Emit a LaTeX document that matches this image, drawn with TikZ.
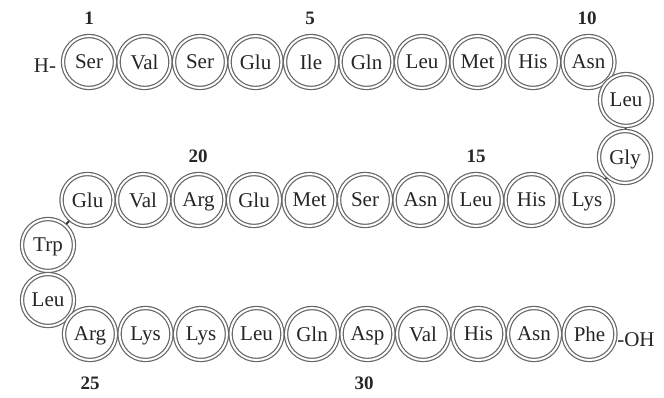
\documentclass[tikz,border=0pt]{standalone}
\usepackage{fontspec}
\setmainfont{Liberation Serif}
\usetikzlibrary{backgrounds}
\begin{document}
\begin{tikzpicture}[x=1pt,y=-1pt,
  res/.style={circle, draw=black!60, fill=white, double=white, double distance=2pt,
    line width=1.2pt, minimum size=52pt, inner sep=0pt,
    font=\fontsize{21}{21}\selectfont, text=black!85, text depth=0pt},
  num/.style={font=\bfseries\fontsize{19}{19}\selectfont, text=black!85},
  term/.style={font=\fontsize{21}{21}\selectfont, text=black!85, inner sep=0pt},
  bond/.style={line width=2pt, black!80}]
\useasboundingbox (0,0) rectangle (664,397);
% row 1
\foreach \n/\t [count=\i from 1] in {1/Ser,2/Val,3/Ser,4/Glu,5/Ile,6/Gln,7/Leu,8/Met,9/His,10/Asn}
  \node[res] (r\n) at ({89+55.5*(\i-1)},62) {\t};
\node[res] (r11) at (626,100) {Leu};
\node[res] (r12) at (625,157) {Gly};
% row 2 (right to left)
\foreach \n/\t [count=\i from 0] in {13/Lys,14/His,15/Leu,16/Asn,17/Ser,18/Met,19/Glu,20/Arg,21/Val,22/Glu}
  \node[res] (r\n) at ({587-55.5*\i},200) {\t};
\node[res] (r23) at (48,245) {Trp};
\node[res] (r24) at (48,300) {Leu};
% row 3
\foreach \n/\t [count=\i from 0] in {25/Arg,26/Lys,27/Lys,28/Leu,29/Gln,30/Asp,31/Val,32/His,33/Asn,34/Phe}
  \node[res] (r\n) at ({90+55.5*\i},334) {\t};
% termini
\node[term] (H) at (45,66) {H-};
\node[term] (OH) at (636,340) {-OH};
% numbers
\node[num] (n1) at (89,18) {1};
\node[num] (n5) at (310,18) {5};
\node[num] (n10) at (587,18) {10};
\node[num] (n15) at (476,156) {15};
\node[num] (n20) at (198,156) {20};
\node[num] (n25) at (90,383) {25};
\node[num] (n30) at (364,383) {30};
% bonds behind the residues
\begin{pgfonlayer}{background}
\foreach \a [evaluate=\a as \b using int(\a+1)] in {1,...,33}
  \draw[bond] (r\a.center) -- (r\b.center);
\end{pgfonlayer}
\end{tikzpicture}
\end{document}
